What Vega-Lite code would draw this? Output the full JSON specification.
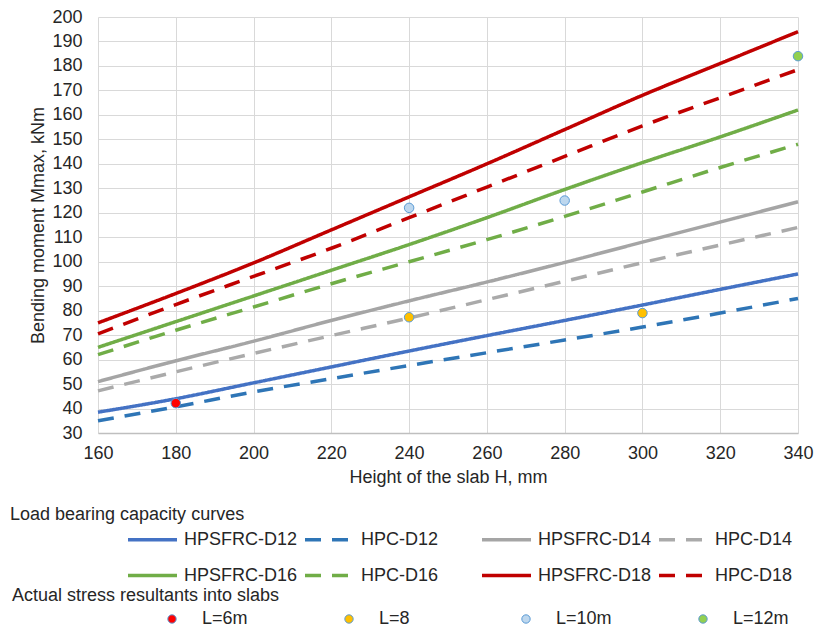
{
  "$schema": "https://vega.github.io/schema/vega-lite/v6.json",
  "width": 700,
  "height": 416,
  "autosize": {"type": "none"},
  "padding": {"left": 98, "top": 17, "right": 17, "bottom": 195},
  "background": "white",
  "title": {
    "text": "Actual stress resultants into slabs",
    "orient": "top", "anchor": "start", "frame": "group",
    "offset": 0, "baseline": "top", "dx": -86, "dy": 597,
    "font": "Liberation Sans", "fontSize": 18, "fontWeight": "normal", "color": "#262626"
  },
  "config": {
    "font": "Liberation Sans",
    "view": {"stroke": null},
    "axis": {
      "labelFont": "Liberation Sans",
      "titleFont": "Liberation Sans",
      "labelFontSize": 18,
      "titleFontSize": 18,
      "titleFontWeight": "normal",
      "labelColor": "#262626",
      "titleColor": "#262626",
      "gridColor": "#D9D9D9",
      "gridWidth": 1,
      "ticks": false,
      "labelOverlap": false,
      "labelFlush": false
    },
    "legend": {
      "labelFont": "Liberation Sans",
      "titleFont": "Liberation Sans",
      "labelFontSize": 18,
      "titleFontSize": 18,
      "titleFontWeight": "normal",
      "labelColor": "#262626",
      "titleColor": "#262626",
      "titleLimit": 400,
      "labelLimit": 300
    }
  },
  "datasets": {
    "curves": [
      {"series": "HPSFRC-D12", "H": 160, "M": 38.5}, {"series": "HPSFRC-D12", "H": 180, "M": 44}, {"series": "HPSFRC-D12", "H": 200, "M": 50.5}, {"series": "HPSFRC-D12", "H": 220, "M": 57}, {"series": "HPSFRC-D12", "H": 240, "M": 63.5}, {"series": "HPSFRC-D12", "H": 260, "M": 69.8}, {"series": "HPSFRC-D12", "H": 280, "M": 76}, {"series": "HPSFRC-D12", "H": 300, "M": 82.3}, {"series": "HPSFRC-D12", "H": 320, "M": 88.7}, {"series": "HPSFRC-D12", "H": 340, "M": 95},
      {"series": "HPC-D12", "H": 160, "M": 35}, {"series": "HPC-D12", "H": 180, "M": 40.7}, {"series": "HPC-D12", "H": 200, "M": 46.8}, {"series": "HPC-D12", "H": 220, "M": 52.2}, {"series": "HPC-D12", "H": 240, "M": 57.6}, {"series": "HPC-D12", "H": 260, "M": 62.8}, {"series": "HPC-D12", "H": 280, "M": 68}, {"series": "HPC-D12", "H": 300, "M": 73.3}, {"series": "HPC-D12", "H": 320, "M": 79}, {"series": "HPC-D12", "H": 340, "M": 85},
      {"series": "HPSFRC-D14", "H": 160, "M": 51}, {"series": "HPSFRC-D14", "H": 180, "M": 59.5}, {"series": "HPSFRC-D14", "H": 200, "M": 67.5}, {"series": "HPSFRC-D14", "H": 220, "M": 76}, {"series": "HPSFRC-D14", "H": 240, "M": 84}, {"series": "HPSFRC-D14", "H": 260, "M": 91.7}, {"series": "HPSFRC-D14", "H": 280, "M": 99.7}, {"series": "HPSFRC-D14", "H": 300, "M": 108}, {"series": "HPSFRC-D14", "H": 320, "M": 116.2}, {"series": "HPSFRC-D14", "H": 340, "M": 124.5},
      {"series": "HPC-D14", "H": 160, "M": 47.2}, {"series": "HPC-D14", "H": 180, "M": 55}, {"series": "HPC-D14", "H": 200, "M": 62.5}, {"series": "HPC-D14", "H": 220, "M": 69.8}, {"series": "HPC-D14", "H": 240, "M": 77}, {"series": "HPC-D14", "H": 260, "M": 84.5}, {"series": "HPC-D14", "H": 280, "M": 92}, {"series": "HPC-D14", "H": 300, "M": 99.6}, {"series": "HPC-D14", "H": 320, "M": 106.8}, {"series": "HPC-D14", "H": 340, "M": 114},
      {"series": "HPSFRC-D16", "H": 160, "M": 65}, {"series": "HPSFRC-D16", "H": 180, "M": 75.5}, {"series": "HPSFRC-D16", "H": 200, "M": 86}, {"series": "HPSFRC-D16", "H": 220, "M": 96.5}, {"series": "HPSFRC-D16", "H": 240, "M": 107}, {"series": "HPSFRC-D16", "H": 260, "M": 118}, {"series": "HPSFRC-D16", "H": 280, "M": 129.5}, {"series": "HPSFRC-D16", "H": 300, "M": 140.5}, {"series": "HPSFRC-D16", "H": 320, "M": 151}, {"series": "HPSFRC-D16", "H": 340, "M": 162},
      {"series": "HPC-D16", "H": 160, "M": 62}, {"series": "HPC-D16", "H": 180, "M": 72}, {"series": "HPC-D16", "H": 200, "M": 81.5}, {"series": "HPC-D16", "H": 220, "M": 91}, {"series": "HPC-D16", "H": 240, "M": 100}, {"series": "HPC-D16", "H": 260, "M": 109}, {"series": "HPC-D16", "H": 280, "M": 118.5}, {"series": "HPC-D16", "H": 300, "M": 128.5}, {"series": "HPC-D16", "H": 320, "M": 138.5}, {"series": "HPC-D16", "H": 340, "M": 148},
      {"series": "HPSFRC-D18", "H": 160, "M": 75}, {"series": "HPSFRC-D18", "H": 180, "M": 87}, {"series": "HPSFRC-D18", "H": 200, "M": 99.5}, {"series": "HPSFRC-D18", "H": 220, "M": 113}, {"series": "HPSFRC-D18", "H": 240, "M": 126.5}, {"series": "HPSFRC-D18", "H": 260, "M": 140}, {"series": "HPSFRC-D18", "H": 280, "M": 154}, {"series": "HPSFRC-D18", "H": 300, "M": 168}, {"series": "HPSFRC-D18", "H": 320, "M": 181}, {"series": "HPSFRC-D18", "H": 340, "M": 194},
      {"series": "HPC-D18", "H": 160, "M": 70.5}, {"series": "HPC-D18", "H": 180, "M": 82.5}, {"series": "HPC-D18", "H": 200, "M": 94}, {"series": "HPC-D18", "H": 220, "M": 105.5}, {"series": "HPC-D18", "H": 240, "M": 118}, {"series": "HPC-D18", "H": 260, "M": 130.5}, {"series": "HPC-D18", "H": 280, "M": 143}, {"series": "HPC-D18", "H": 300, "M": 155.5}, {"series": "HPC-D18", "H": 320, "M": 167}, {"series": "HPC-D18", "H": 340, "M": 178.5}
    ],
    "points": [
      {"L": "L=6m", "H": 180, "M": 42.2},
      {"L": "L=8", "H": 240, "M": 77.3},
      {"L": "L=8", "H": 300, "M": 79},
      {"L": "L=10m", "H": 240, "M": 122},
      {"L": "L=10m", "H": 280, "M": 125},
      {"L": "L=12m", "H": 340, "M": 184}
    ]
  },
  "encoding": {
    "x": {
      "field": "H", "type": "quantitative",
      "scale": {"domain": [160, 340], "nice": false, "zero": false},
      "axis": {"values": [160, 180, 200, 220, 240, 260, 280, 300, 320, 340], "title": "Height of the slab H, mm", "labelPadding": 11, "titlePadding": 6, "domainColor": "#BFBFBF", "domainWidth": 1.5, "labelOverlap": false, "labelFlush": false}
    },
    "y": {
      "field": "M", "type": "quantitative",
      "scale": {"domain": [30, 200], "nice": false, "zero": false},
      "axis": {"values": [30, 40, 50, 60, 70, 80, 90, 100, 110, 120, 130, 140, 150, 160, 170, 180, 190, 200], "title": "Bending moment Mmax, kNm", "labelPadding": 16, "titlePadding": 4, "domain": false, "labelOverlap": false, "labelFlush": false}
    }
  },
  "layer": [
    {
      "data": {"name": "curves"},
      "mark": {"type": "line", "strokeWidth": 3.5, "interpolate": "monotone"},
      "encoding": {
        "stroke": {
          "field": "series", "type": "nominal",
          "scale": {
            "domain": ["HPSFRC-D12", "HPC-D12", "HPSFRC-D14", "HPC-D14", "HPSFRC-D16", "HPC-D16", "HPSFRC-D18", "HPC-D18"],
            "range": ["#4472C4", "#2E75B6", "#A5A5A5", "#AAAAAA", "#70AD47", "#70AD47", "#C00000", "#C00000"]
          },
          "legend": {
            "title": "Load bearing capacity curves",
            "orient": "none", "legendX": -88, "legendY": 489,
            "columns": 4, "direction": "horizontal", "gridAlign": "all",
            "symbolType": "stroke", "symbolSize": 2401, "symbolStrokeWidth": 3.5,
            "labelOffset": 5, "columnPadding": 0, "rowPadding": -2, "titlePadding": -11,
            "encode": {"title": {"update": {"dx": {"value": -116}}}}
          }
        },
        "strokeDash": {
          "field": "series", "type": "nominal",
          "scale": {
            "domain": ["HPSFRC-D12", "HPC-D12", "HPSFRC-D14", "HPC-D14", "HPSFRC-D16", "HPC-D16", "HPSFRC-D18", "HPC-D18"],
            "range": [[1, 0], [16, 11], [1, 0], [16, 11], [1, 0], [16, 11], [1, 0], [16, 11]]
          },
          "legend": {
            "title": "Load bearing capacity curves",
            "orient": "none", "legendX": -88, "legendY": 489,
            "columns": 4, "direction": "horizontal", "gridAlign": "all",
            "symbolType": "stroke", "symbolSize": 2401, "symbolStrokeWidth": 3.5,
            "labelOffset": 5, "columnPadding": 0, "rowPadding": -2, "titlePadding": -11,
            "encode": {"title": {"update": {"dx": {"value": -116}}}}
          }
        }
      }
    },
    {
      "data": {"name": "points"},
      "mark": {"type": "point", "filled": true, "size": 90, "opacity": 1, "stroke": "#5B9BD5", "strokeWidth": 1},
      "encoding": {
        "fill": {
          "field": "L", "type": "nominal",
          "scale": {"domain": ["L=6m", "L=8", "L=10m", "L=12m"], "range": ["#FF0000", "#FFC000", "#BDD7EE", "#92D050"]},
          "legend": {
            "title": null,
            "orient": "none", "legendX": 65, "legendY": 593,
            "columns": 4, "direction": "horizontal", "gridAlign": "all",
            "symbolType": "circle", "symbolSize": 70, "symbolStrokeColor": "#5B9BD5", "symbolStrokeWidth": 1,
            "labelOffset": 21, "columnPadding": 82
          }
        }
      }
    }
  ]
}
